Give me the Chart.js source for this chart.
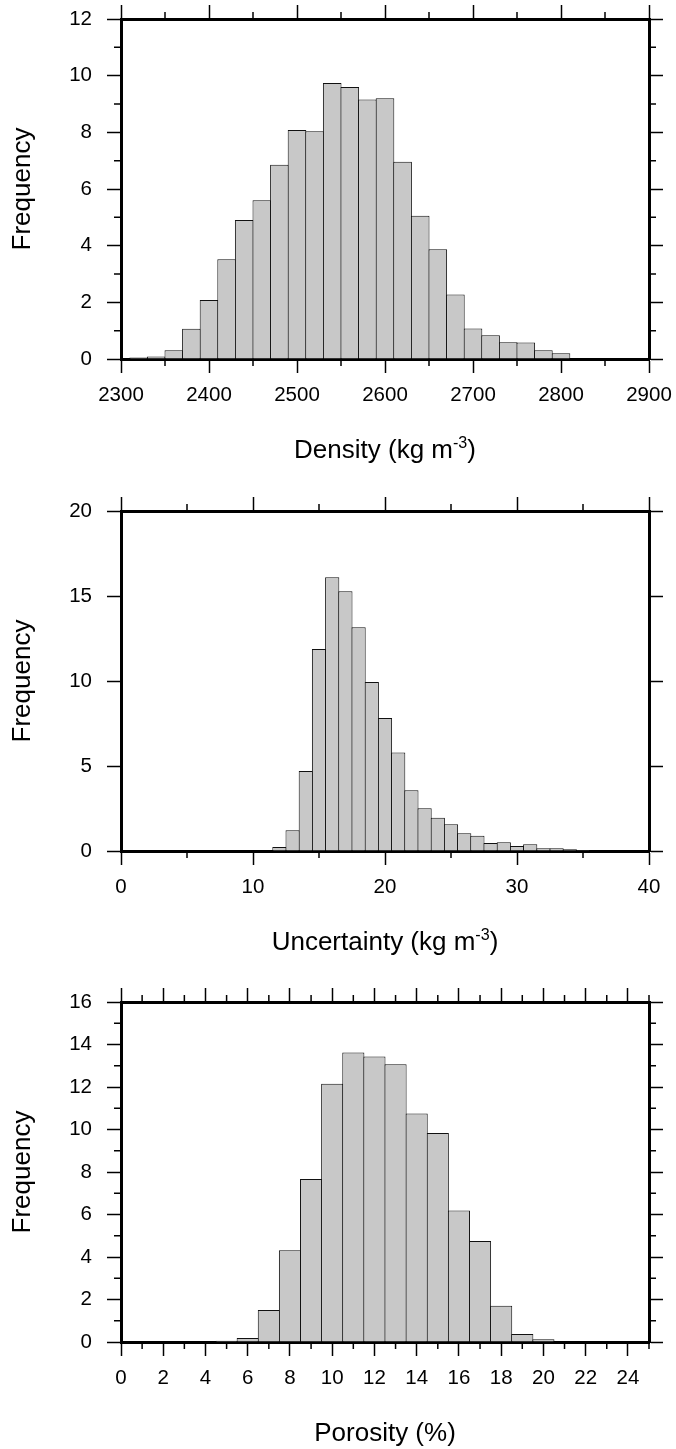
<!DOCTYPE html>
<html><head><meta charset="utf-8">
<script src="https://cdn.jsdelivr.net/npm/chart.js@4.4.1/dist/chart.umd.min.js"></script>
<style>
html,body{margin:0;padding:0;background:#fff;overflow:hidden;width:676px;height:1449px;}
.wrap{position:absolute;left:0;width:676px;}
canvas{display:block;}
</style></head><body>
<div class="wrap" style="top:0px;height:491px"><canvas id="c1" width="676" height="491"></canvas></div>
<div class="wrap" style="top:492px;height:491px"><canvas id="c2" width="676" height="491"></canvas></div>
<div class="wrap" style="top:983px;height:466px"><canvas id="c3" width="676" height="466"></canvas></div>
<script>
// ---- Data ----
const densityBins = [2320,2340,2360,2380,2400,2420,2440,2460,2480,2500,2520,2540,2560,2580,2600,2620,2640,2660,2680,2700,2720,2740,2760,2780,2800];
const densityFreq = [0.05,0.09,0.31,1.07,2.08,3.52,4.91,5.60,6.86,8.08,8.04,9.74,9.60,9.16,9.20,6.96,5.06,3.87,2.28,1.08,0.84,0.59,0.58,0.31,0.20];
const densityXTicks = [2300,2400,2500,2600,2700,2800,2900];
const densityXMinor = [2350,2450,2550,2650,2750,2850];
const densityYTicks = [0,2,4,6,8,10,12];
const densityYMinor = [1,3,5,7,9,11];

const uncBins = [12,13,14,15,16,17,18,19,20,21,22,23,24,25,26,27,28,29,30,31,32,33,34,35];
const uncFreq = [0.24,1.22,4.71,11.88,16.10,15.28,13.16,9.94,7.82,5.79,3.57,2.51,1.96,1.57,1.04,0.90,0.47,0.51,0.29,0.39,0.16,0.16,0.10,0.06];
const uncXTicks = [0,10,20,30,40];
const uncXMinor = [5,15,25,35];
const uncYTicks = [0,5,10,15,20];
const uncYMinor = [];

const porBins = [5,6,7,8,9,10,11,12,13,14,15,16,17,18,19,20,21];
const porFreq = [0.06,0.19,1.51,4.32,7.67,12.15,13.62,13.43,13.07,10.75,9.84,6.19,4.75,1.71,0.38,0.13,0.03];
const porXTicks = [0,2,4,6,8,10,12,14,16,18,20,22,24];
const porXMinor = [1,3,5,7,9,11,13,15,17,19,21,23,25];
const porYTicks = [0,2,4,6,8,10,12,14,16];
const porYMinor = [1,3,5,7,9,11,13,15];

const yTitle = 'Frequency';
const densityTitle = ['Density (kg m', '-3', ')'];
const uncTitle = ['Uncertainty (kg m', '-3', ')'];
const porTitle = ['Porosity (%)', '', ''];

// ---- Style ----
const FONT = "'Liberation Sans', Arial, Helvetica, sans-serif";
const TICK_FONT = 20.5, TITLE_FONT = 26;
const MAJOR = 14, MINOR = 7;
const AREA = {left: 121, right: 649, top: 19, bottom: 359};

const framePlugin = {
  id: 'frameExtras',
  afterDraw(chart, args, opts) {
    const {ctx, chartArea: a} = chart;
    const xs = chart.scales.x, ys = chart.scales.y;
    ctx.save();
    ctx.strokeStyle = '#000';
    ctx.lineWidth = 1.5;
    ctx.beginPath();
    opts.xMinor.forEach(v => {
      const px = xs.getPixelForValue(v);
      ctx.moveTo(px, a.top); ctx.lineTo(px, a.top - MINOR);
      ctx.moveTo(px, a.bottom); ctx.lineTo(px, a.bottom + MINOR);
    });
    opts.yMinor.forEach(v => {
      const py = ys.getPixelForValue(v);
      ctx.moveTo(a.left, py); ctx.lineTo(a.left - MINOR, py);
      ctx.moveTo(a.right, py); ctx.lineTo(a.right + MINOR, py);
    });
    ctx.stroke();
    // x-axis title with superscript
    const [main, sup, tail] = opts.title;
    const supSize = TITLE_FONT * 0.62;
    ctx.fillStyle = '#000';
    ctx.textBaseline = 'alphabetic';
    ctx.textAlign = 'left';
    ctx.font = TITLE_FONT + 'px ' + FONT;
    const w1 = ctx.measureText(main).width;
    const w3 = ctx.measureText(tail).width;
    ctx.font = supSize + 'px ' + FONT;
    const w2 = sup ? ctx.measureText(sup).width : 0;
    const total = w1 + w2 + w3;
    let x = (a.left + a.right) / 2 - total / 2;
    const base = a.bottom + opts.titleOffset;
    ctx.font = TITLE_FONT + 'px ' + FONT;
    ctx.fillText(main, x, base); x += w1;
    if (sup) { ctx.font = supSize + 'px ' + FONT; ctx.fillText(sup, x, base - TITLE_FONT * 0.4); x += w2; }
    ctx.font = TITLE_FONT + 'px ' + FONT;
    if (tail) ctx.fillText(tail, x, base);
    ctx.restore();
  }
};

function zeroPad(s) { s.paddingLeft = 0; s.paddingRight = 0; s.paddingTop = 0; s.paddingBottom = 0; }

function axisCommon(tickVals) {
  return {
    afterBuildTicks: s => { s.ticks = tickVals.map(v => ({value: v})); },
    grid: {display: true, drawOnChartArea: false, drawTicks: true, tickLength: MAJOR, tickWidth: 1.5, tickColor: '#000', offset: false},
    border: {display: true, color: '#000', width: 3},
    z: 1,
    offset: false
  };
}

function makeChart(id, canvasH, bins, freq, binWidth, xMin, xMax, xTicks, xMinor, yMax, yTicks, yMinor, title) {
  const binPx = (AREA.right - AREA.left) * binWidth / (xMax - xMin);
  const tickFont = {family: FONT, size: TICK_FONT};
  return new Chart(document.getElementById(id), {
    type: 'bar',
    data: {
      datasets: [{
        data: bins.map((b, i) => ({x: b, y: freq[i]})),
        backgroundColor: '#c8c8c8',
        borderColor: '#111',
        borderWidth: 1,
        borderSkipped: 'start',
        barPercentage: 1 + 1 / binPx,
        categoryPercentage: 1
      }]
    },
    options: {
      responsive: false,
      animation: false,
      events: [],
      layout: {padding: 0},
      plugins: {
        legend: {display: false},
        tooltip: {enabled: false},
        frameExtras: {xMinor, yMinor, title, titleOffset: 99}
      },
      scales: {
        x: Object.assign(axisCommon(xTicks), {
          type: 'linear', position: 'bottom', min: xMin, max: xMax,
          ticks: {display: true, color: '#000', font: tickFont, padding: 10, maxRotation: 0, autoSkip: false, callback: v => String(v)},
          afterFit: s => { s.height = canvasH - AREA.bottom; zeroPad(s); }
        }),
        x2: Object.assign(axisCommon(xTicks), {
          type: 'linear', position: 'top', min: xMin, max: xMax,
          ticks: {display: false},
          afterFit: s => { s.height = AREA.top; zeroPad(s); }
        }),
        y: Object.assign(axisCommon(yTicks), {
          type: 'linear', position: 'left', min: 0, max: yMax,
          ticks: {display: true, color: '#000', font: tickFont, padding: 15, callback: v => String(v)},
          title: {display: true, text: yTitle, color: '#000', font: {family: FONT, size: TITLE_FONT}, padding: {top: 7, bottom: 0}},
          afterFit: s => { s.width = AREA.left; zeroPad(s); }
        }),
        y2: Object.assign(axisCommon(yTicks), {
          type: 'linear', position: 'right', min: 0, max: yMax,
          ticks: {display: false},
          afterFit: s => { s.width = 676 - AREA.right; zeroPad(s); }
        })
      }
    },
    plugins: [framePlugin]
  });
}

makeChart('c1', 491, densityBins, densityFreq, 20, 2300, 2900, densityXTicks, densityXMinor, 12, densityYTicks, densityYMinor, densityTitle);
makeChart('c2', 491, uncBins, uncFreq, 1, 0, 40, uncXTicks, uncXMinor, 20, uncYTicks, uncYMinor, uncTitle);
makeChart('c3', 466, porBins, porFreq, 1, 0, 25, porXTicks, porXMinor, 16, porYTicks, porYMinor, porTitle);
</script>
</body></html>
